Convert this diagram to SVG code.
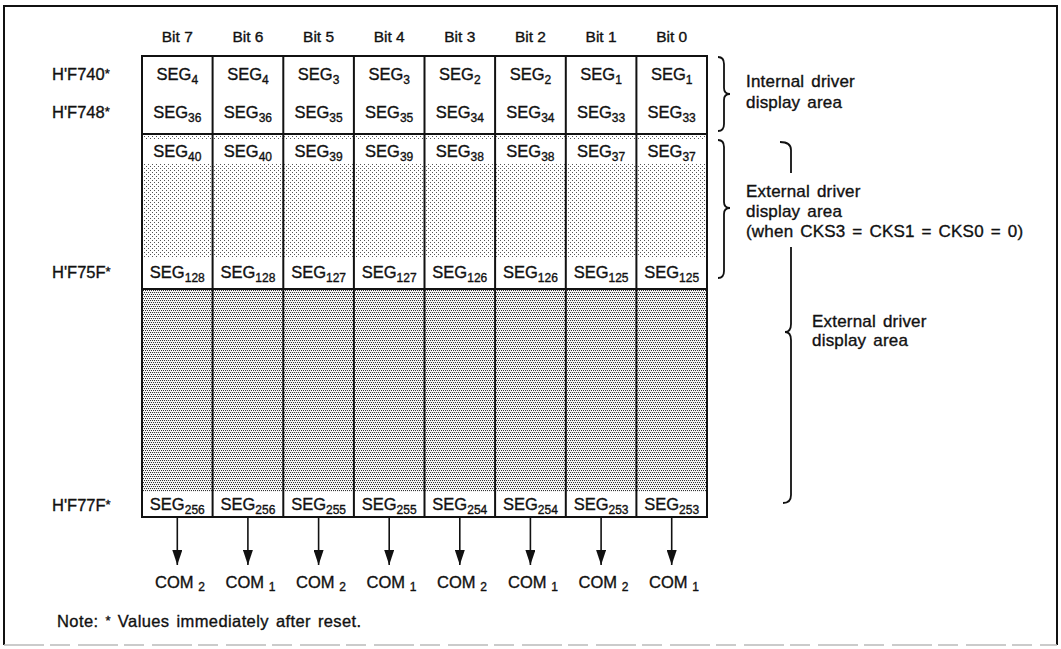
<svg xmlns="http://www.w3.org/2000/svg" width="1061" height="649" viewBox="0 0 1061 649">
<style>
text{font-family:"Liberation Sans",Arial,sans-serif;font-size:16.5px;fill:#111;stroke:#111;stroke-width:0.35;}
.c{text-anchor:middle}
.hd{font-size:15.5px}
.sub{font-size:12px}
.lbl{font-size:17px;letter-spacing:0.2px;word-spacing:2px}
.note{letter-spacing:0.4px;word-spacing:2px}
.ln{stroke:#111;stroke-width:2;fill:none}
.thin{stroke:#111;stroke-width:1.6;fill:none}
.br{stroke:#111;stroke-width:1.8;fill:none}
.band{fill:#fff}
</style>
<defs>
<pattern id="light" width="4" height="4" patternUnits="userSpaceOnUse">
<rect width="4" height="4" fill="#fff"/>
<rect x="0" y="0" width="1" height="1" fill="#555"/>
<rect x="2" y="2" width="1" height="1" fill="#555"/>
</pattern>
<pattern id="dark" width="4" height="4" patternUnits="userSpaceOnUse">
<rect width="4" height="4" fill="#fff"/>
<rect x="0" y="0" width="1.1" height="1.1" fill="#333"/>
<rect x="2" y="0" width="1.1" height="1.1" fill="#333"/>
<rect x="1" y="2" width="1.1" height="1.1" fill="#333"/>
<rect x="3" y="2" width="1.1" height="1.1" fill="#333"/>
</pattern>
<marker id="ah" markerWidth="15" markerHeight="10" refX="15" refY="5" orient="auto" markerUnits="userSpaceOnUse">
<path d="M0,0 L15,5 L0,10 Z" fill="#111"/>
</marker>
</defs>

<!-- outer frame -->
<g id="frame">
<path d="M4,645 L4,6 L1057,6 L1057,645" class="ln"/>
<path d="M4,645 L1057,645" stroke="#bbb" stroke-width="1.5" stroke-dasharray="40 6 20 8"/>
</g>

<!-- column headers -->
<g id="headers">
<text class="c hd" x="177.3" y="42">Bit 7</text>
<text class="c hd" x="247.9" y="42">Bit 6</text>
<text class="c hd" x="318.6" y="42">Bit 5</text>
<text class="c hd" x="389.2" y="42">Bit 4</text>
<text class="c hd" x="459.8" y="42">Bit 3</text>
<text class="c hd" x="530.4" y="42">Bit 2</text>
<text class="c hd" x="601.1" y="42">Bit 1</text>
<text class="c hd" x="671.7" y="42">Bit 0</text>
</g>

<!-- address labels -->
<g id="addresses">
<text x="52" y="80">H'F740<tspan dy="-2" font-size="13">*</tspan></text>
<text x="52" y="118">H'F748<tspan dy="-2" font-size="13">*</tspan></text>
<text x="52" y="278">H'F75F<tspan dy="-2" font-size="13">*</tspan></text>
<text x="52" y="511">H'F77F<tspan dy="-2" font-size="13">*</tspan></text>
</g>

<!-- grid -->
<g id="grid">
<rect x="142" y="56" width="565" height="78" fill="#fff"/>
<rect x="142" y="134" width="565" height="155" fill="url(#light)"/>
<rect x="142" y="289" width="565" height="228" fill="url(#dark)"/>
<g class="band">
<rect x="143" y="139" width="563" height="24"/>
<rect x="143" y="258" width="563" height="29"/>
<rect x="143" y="492" width="563" height="24"/>
</g>
<g class="ln">
<rect x="142" y="56" width="565" height="461"/>
<line x1="142" y1="134" x2="707" y2="134"/>
<line x1="142" y1="289" x2="707" y2="289"/>
<line x1="212.6" y1="56" x2="212.6" y2="517"/>
<line x1="283.3" y1="56" x2="283.3" y2="517"/>
<line x1="353.9" y1="56" x2="353.9" y2="517"/>
<line x1="424.5" y1="56" x2="424.5" y2="517"/>
<line x1="495.1" y1="56" x2="495.1" y2="517"/>
<line x1="565.8" y1="56" x2="565.8" y2="517"/>
<line x1="636.4" y1="56" x2="636.4" y2="517"/>
</g>
</g>

<!-- cell labels -->
<g id="row-f740">
<text class="c" x="177.3" y="80">SEG<tspan class="sub" dy="4">4</tspan></text>
<text class="c" x="247.9" y="80">SEG<tspan class="sub" dy="4">4</tspan></text>
<text class="c" x="318.6" y="80">SEG<tspan class="sub" dy="4">3</tspan></text>
<text class="c" x="389.2" y="80">SEG<tspan class="sub" dy="4">3</tspan></text>
<text class="c" x="459.8" y="80">SEG<tspan class="sub" dy="4">2</tspan></text>
<text class="c" x="530.4" y="80">SEG<tspan class="sub" dy="4">2</tspan></text>
<text class="c" x="601.1" y="80">SEG<tspan class="sub" dy="4">1</tspan></text>
<text class="c" x="671.7" y="80">SEG<tspan class="sub" dy="4">1</tspan></text>
</g>
<g id="row-f748">
<text class="c" x="177.3" y="118">SEG<tspan class="sub" dy="4">36</tspan></text>
<text class="c" x="247.9" y="118">SEG<tspan class="sub" dy="4">36</tspan></text>
<text class="c" x="318.6" y="118">SEG<tspan class="sub" dy="4">35</tspan></text>
<text class="c" x="389.2" y="118">SEG<tspan class="sub" dy="4">35</tspan></text>
<text class="c" x="459.8" y="118">SEG<tspan class="sub" dy="4">34</tspan></text>
<text class="c" x="530.4" y="118">SEG<tspan class="sub" dy="4">34</tspan></text>
<text class="c" x="601.1" y="118">SEG<tspan class="sub" dy="4">33</tspan></text>
<text class="c" x="671.7" y="118">SEG<tspan class="sub" dy="4">33</tspan></text>
</g>
<g id="row-f750">
<text class="c" x="177.3" y="157">SEG<tspan class="sub" dy="4">40</tspan></text>
<text class="c" x="247.9" y="157">SEG<tspan class="sub" dy="4">40</tspan></text>
<text class="c" x="318.6" y="157">SEG<tspan class="sub" dy="4">39</tspan></text>
<text class="c" x="389.2" y="157">SEG<tspan class="sub" dy="4">39</tspan></text>
<text class="c" x="459.8" y="157">SEG<tspan class="sub" dy="4">38</tspan></text>
<text class="c" x="530.4" y="157">SEG<tspan class="sub" dy="4">38</tspan></text>
<text class="c" x="601.1" y="157">SEG<tspan class="sub" dy="4">37</tspan></text>
<text class="c" x="671.7" y="157">SEG<tspan class="sub" dy="4">37</tspan></text>
</g>
<g id="row-f75f">
<text class="c" x="177.3" y="278">SEG<tspan class="sub" dy="4">128</tspan></text>
<text class="c" x="247.9" y="278">SEG<tspan class="sub" dy="4">128</tspan></text>
<text class="c" x="318.6" y="278">SEG<tspan class="sub" dy="4">127</tspan></text>
<text class="c" x="389.2" y="278">SEG<tspan class="sub" dy="4">127</tspan></text>
<text class="c" x="459.8" y="278">SEG<tspan class="sub" dy="4">126</tspan></text>
<text class="c" x="530.4" y="278">SEG<tspan class="sub" dy="4">126</tspan></text>
<text class="c" x="601.1" y="278">SEG<tspan class="sub" dy="4">125</tspan></text>
<text class="c" x="671.7" y="278">SEG<tspan class="sub" dy="4">125</tspan></text>
</g>
<g id="row-f77f">
<text class="c" x="177.3" y="510">SEG<tspan class="sub" dy="4">256</tspan></text>
<text class="c" x="247.9" y="510">SEG<tspan class="sub" dy="4">256</tspan></text>
<text class="c" x="318.6" y="510">SEG<tspan class="sub" dy="4">255</tspan></text>
<text class="c" x="389.2" y="510">SEG<tspan class="sub" dy="4">255</tspan></text>
<text class="c" x="459.8" y="510">SEG<tspan class="sub" dy="4">254</tspan></text>
<text class="c" x="530.4" y="510">SEG<tspan class="sub" dy="4">254</tspan></text>
<text class="c" x="601.1" y="510">SEG<tspan class="sub" dy="4">253</tspan></text>
<text class="c" x="671.7" y="510">SEG<tspan class="sub" dy="4">253</tspan></text>
</g>

<!-- connectors -->
<g id="connectors" class="thin">
<line x1="177.3" y1="517" x2="177.3" y2="565" marker-end="url(#ah)"/>
<line x1="247.9" y1="517" x2="247.9" y2="565" marker-end="url(#ah)"/>
<line x1="318.6" y1="517" x2="318.6" y2="565" marker-end="url(#ah)"/>
<line x1="389.2" y1="517" x2="389.2" y2="565" marker-end="url(#ah)"/>
<line x1="459.8" y1="517" x2="459.8" y2="565" marker-end="url(#ah)"/>
<line x1="530.4" y1="517" x2="530.4" y2="565" marker-end="url(#ah)"/>
<line x1="601.1" y1="517" x2="601.1" y2="565" marker-end="url(#ah)"/>
<line x1="671.7" y1="517" x2="671.7" y2="565" marker-end="url(#ah)"/>
</g>

<!-- COM labels -->
<g id="coms">
<text class="c" x="180" y="588">COM <tspan class="sub" dy="3">2</tspan></text>
<text class="c" x="250.5" y="588">COM <tspan class="sub" dy="3">1</tspan></text>
<text class="c" x="321" y="588">COM <tspan class="sub" dy="3">2</tspan></text>
<text class="c" x="391.5" y="588">COM <tspan class="sub" dy="3">1</tspan></text>
<text class="c" x="462" y="588">COM <tspan class="sub" dy="3">2</tspan></text>
<text class="c" x="533" y="588">COM <tspan class="sub" dy="3">1</tspan></text>
<text class="c" x="603.5" y="588">COM <tspan class="sub" dy="3">2</tspan></text>
<text class="c" x="674" y="588">COM <tspan class="sub" dy="3">1</tspan></text>
</g>

<!-- braces -->
<g id="brace-internal">
<path class="br" d="M718,57 Q724,57 724,64 L724,88 Q724,94 730,94 Q724,94 724,100 L724,124 Q724,131 718,131"/>
<text class="lbl" x="746" y="87">Internal driver</text>
<text class="lbl" x="746" y="108">display area</text>
</g>
<g id="brace-external-cks">
<path class="br" d="M718,140 Q724,140 724,147 L724,202 Q724,208 730,208 Q724,208 724,214 L724,271 Q724,278 718,278"/>
<text class="lbl" x="746" y="197">External driver</text>
<text class="lbl" x="746" y="217">display area</text>
<text class="lbl" x="746" y="237">(when CKS3 = CKS1 = CKS0 = 0)</text>
</g>
<g id="brace-external">
<path class="br" d="M780,142 Q791,142 791,150 L791,173"/>
<path class="br" d="M791,247 L791,324 Q791,332 785,332 Q791,332 791,340 L791,495 Q791,503 783,503"/>
<text class="lbl" x="812" y="327">External driver</text>
<text class="lbl" x="812" y="346">display area</text>
</g>

<!-- note -->
<g id="note">
<text class="note" x="57" y="627">Note: <tspan dy="-2" font-size="13">*</tspan><tspan dy="2"> Values immediately after reset.</tspan></text>
</g>
</svg>
